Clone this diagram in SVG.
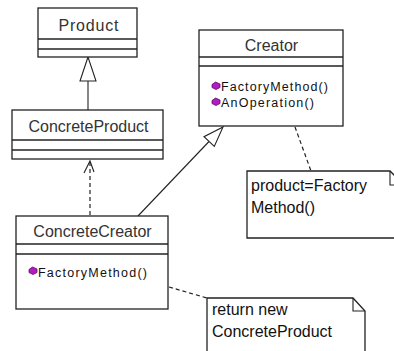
<svg xmlns="http://www.w3.org/2000/svg" width="394" height="351" viewBox="0 0 394 351">
<style>
.box{fill:#fff;stroke:#222;stroke-width:1.3}
.sep{stroke:#222;stroke-width:1.3}
.name{font-family:"Liberation Sans",Arial,sans-serif;font-size:16px;fill:#333;text-anchor:middle}
.meth{font-family:"Liberation Sans",Arial,sans-serif;font-size:12.5px;fill:#111}
.note{font-family:"Liberation Sans",Arial,sans-serif;font-size:16px;fill:#111}
.icon{fill:#b21cc4;stroke:#5a0a66;stroke-width:0.8}
.line{fill:none;stroke:#222;stroke-width:1.1}
.dash{fill:none;stroke:#222;stroke-width:1.2;stroke-dasharray:4 3}
.tri{fill:#fff;stroke:#222;stroke-width:1.1}
</style>
<defs>
<polygon id="ic" points="0,2.5 3.5,0 8,2 8,5.5 4,7.5 0,5.5" class="icon"/>
</defs>
<g id="connectors">
<line class="line" x1="88" y1="81" x2="88" y2="110"/>
<polygon class="tri" points="88,57 80,81 96,81"/>
<line class="dash" x1="90" y1="215" x2="90" y2="162"/>
<polyline class="line" points="84,173 90,161 94,172"/>
<line class="line" x1="138" y1="216" x2="209" y2="141.5"/>
<polygon class="tri" points="223,127 204,136.7 214.3,146.4"/>
<line class="dash" x1="295" y1="127" x2="311" y2="171"/>
<line class="dash" x1="169" y1="287" x2="207" y2="298"/>
</g>
<g id="Product">
<rect class="box" x="38" y="8" width="99" height="49"/>
<line class="sep" x1="38" y1="39" x2="137" y2="39"/>
<line class="sep" x1="38" y1="49" x2="137" y2="49"/>
<text class="name" x="88.5" y="31" textLength="60" lengthAdjust="spacing">Product</text>
</g>
<g id="ConcreteProduct">
<rect class="box" x="12" y="110" width="151" height="49"/>
<line class="sep" x1="12" y1="140" x2="163" y2="140"/>
<line class="sep" x1="12" y1="150" x2="163" y2="150"/>
<text class="name" x="88.5" y="132">ConcreteProduct</text>
</g>
<g id="Creator">
<rect class="box" x="199" y="30" width="144" height="96"/>
<line class="sep" x1="199" y1="57" x2="343" y2="57"/>
<line class="sep" x1="199" y1="66" x2="343" y2="66"/>
<text class="name" x="271.5" y="51">Creator</text>
<use href="#ic" x="212" y="82"/>
<text class="meth" x="221" y="91" textLength="107" lengthAdjust="spacing">FactoryMethod()</text>
<use href="#ic" x="212" y="98"/>
<text class="meth" x="221" y="107" textLength="93" lengthAdjust="spacing">AnOperation()</text>
</g>
<g id="ConcreteCreator">
<rect class="box" x="16" y="216" width="152" height="93"/>
<line class="sep" x1="16" y1="244" x2="168" y2="244"/>
<line class="sep" x1="16" y1="254" x2="168" y2="254"/>
<text class="name" x="92.5" y="237">ConcreteCreator</text>
<use href="#ic" x="29" y="267"/>
<text class="meth" x="38" y="277" textLength="109" lengthAdjust="spacing">FactoryMethod()</text>
</g>
<g id="note1">
<path class="box" d="M247,171 H390 L404,185 V238 H247 Z"/>
<path class="line" d="M390,171 V185 H404"/>
<text class="note" x="251" y="191">product=Factory</text>
<text class="note" x="251" y="213">Method()</text>
</g>
<g id="note2">
<path class="box" d="M207,298 H353 L365,311 V360 H207 Z"/>
<path class="line" d="M353,298 V311 H365"/>
<text class="note" x="212" y="315">return new</text>
<text class="note" x="212" y="337">ConcreteProduct</text>
</g>
</svg>
